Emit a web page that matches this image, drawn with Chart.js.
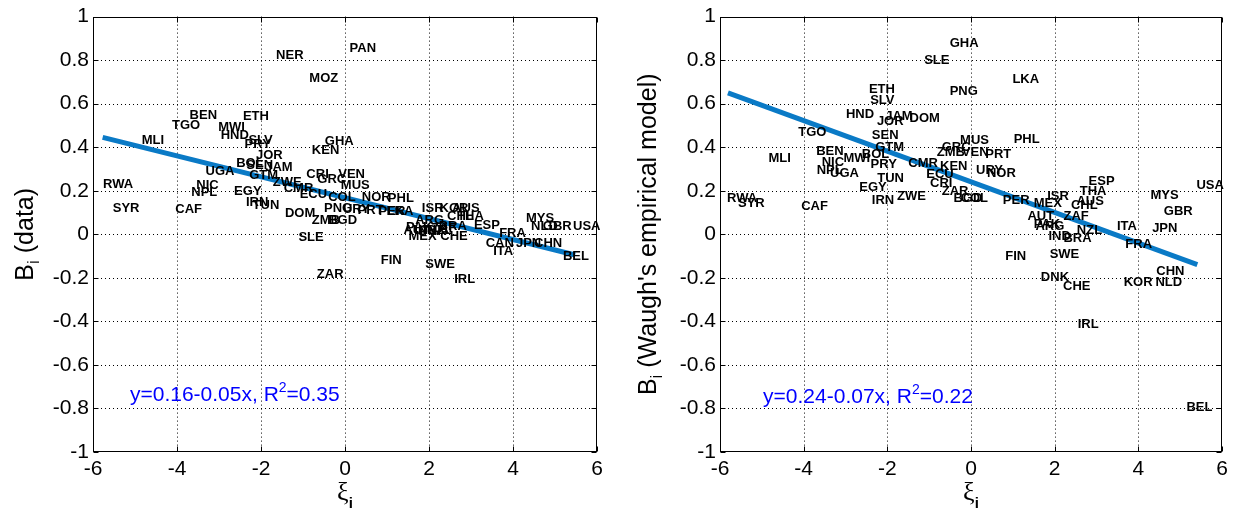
<!DOCTYPE html>
<html><head><meta charset="utf-8">
<script src="https://cdn.jsdelivr.net/npm/chart.js@4.4.0/dist/chart.umd.min.js"></script>
<style>
html,body{margin:0;padding:0;background:#fff;}
#wrap{position:relative;width:1238px;height:514px;overflow:hidden;background:#fff;}
.box{position:absolute;top:0;width:619px;height:514px;}
</style></head><body>
<div id="wrap">
<div class="box" style="left:0"><canvas id="c1" width="619" height="514"></canvas></div>
<div class="box" style="left:619px"><canvas id="c2" width="619" height="514"></canvas></div>
</div>
<script>
// ---- tick values ----
const xTickValues = [-6, -4, -2, 0, 2, 4, 6];
const yTickValues = [-1, -0.8, -0.6, -0.4, -0.2, 0, 0.2, 0.4, 0.6, 0.8, 1];

// ---- left panel: B_i (data) ----
const leftLabels = ['NER','PAN','MOZ','BEN','TGO','ETH','MWI','HND','PRY','SLV','MLI','KEN','GHA','JOR','BOL','SEN','JAM','GTM','UGA','RWA','NIC','NPL','EGY','SYR','CAF','IRN','TUN','ZWE','CMR','DOM','ZMB','BGD','SLE','ZAR','CRI','GRC','VEN','MUS','ECU','COL','PNG','URY','PRT','NOR','PHL','PER','LKA','ISR','KOR','AUS','CHL','THA','ARG','ESP','BRA','AUT','PAK','IND','DNK','NZL','ZAF','MEX','CHE','FIN','SWE','IRL','MYS','NLD','GBR','USA','FRA','CAN','ITA','JPN','CHN','BEL'];
const leftXi = [-1.64,0.11,-0.85,-3.70,-4.12,-2.43,-3.02,-2.96,-2.39,-2.30,-4.84,-0.79,-0.48,-2.12,-2.59,-2.35,-1.90,-2.28,-3.32,-5.76,-3.54,-3.66,-2.64,-5.53,-4.04,-2.36,-2.20,-1.72,-1.46,-1.43,-0.79,-0.40,-1.11,-0.67,-0.92,-0.66,-0.16,-0.10,-1.08,-0.40,-0.50,-0.05,0.30,0.40,1.02,0.80,0.99,1.83,2.25,2.55,2.43,2.67,1.67,3.07,2.23,1.39,1.45,1.65,1.75,1.95,2.05,1.51,2.27,0.85,1.91,2.60,4.31,4.43,4.71,5.43,3.67,3.35,3.53,4.07,4.50,5.19];
const leftB = [0.822,0.854,0.718,0.546,0.502,0.540,0.490,0.455,0.414,0.430,0.432,0.384,0.425,0.361,0.326,0.317,0.308,0.270,0.288,0.229,0.224,0.194,0.198,0.121,0.115,0.148,0.133,0.239,0.209,0.095,0.065,0.066,-0.015,-0.186,0.277,0.254,0.277,0.224,0.183,0.171,0.118,0.112,0.110,0.171,0.163,0.103,0.103,0.118,0.118,0.118,0.080,0.080,0.065,0.042,0.034,0.019,0.030,0.020,0.015,0.020,0.025,-0.011,-0.011,-0.118,-0.140,-0.209,0.072,0.034,0.034,0.034,0.004,-0.042,-0.080,-0.042,-0.042,-0.103];
const leftFitX = [-5.77, 5.48];
const leftFitY = [0.445, -0.095];
const leftEquation = ['y=0.16-0.05x, R', '2', '=0.35'];
const leftEquationAt = [-5.12, -0.731];
const leftTitle = ['B', 'i', ' (data)'];

// ---- right panel: B_i (Waugh's empirical model) ----
const rightLabels = ['GHA','SLE','PNG','LKA','ETH','SLV','HND','JAM','JOR','DOM','TGO','SEN','GTM','MLI','BEN','MWI','BOL','NIC','NPL','UGA','PRY','EGY','TUN','IRN','ZWE','CMR','KEN','ECU','CRI','ZAR','BGD','COL','URY','PRT','NOR','MUS','GRC','ZMB','VEN','PHL','PER','MEX','ISR','AUT','ZAF','AUS','THA','CHL','ESP','PAK','ARG','IND','NZL','BRA','FIN','SWE','DNK','CHE','IRL','FRA','ITA','JPN','MYS','GBR','USA','CHN','KOR','NLD','BEL','RWA','SYR','CAF'];
const rightXi = [-0.51,-1.12,-0.51,0.99,-2.44,-2.41,-2.99,-2.05,-2.25,-1.47,-4.13,-2.37,-2.29,-4.84,-3.70,-3.05,-2.61,-3.57,-3.69,-3.37,-2.40,-2.67,-2.24,-2.37,-1.77,-1.50,-0.74,-1.07,-0.98,-0.70,-0.42,-0.25,0.12,0.34,0.38,-0.26,-0.70,-0.82,-0.22,1.02,0.76,1.50,1.82,1.35,2.21,2.52,2.60,2.39,2.81,1.50,1.54,1.85,2.53,2.21,0.82,1.88,1.67,2.20,2.55,3.69,3.49,4.33,4.29,4.61,5.39,4.43,3.65,4.41,5.15,-5.83,-5.57,-4.06];
const rightB = [0.878,0.799,0.655,0.710,0.665,0.613,0.549,0.541,0.518,0.533,0.468,0.453,0.400,0.350,0.380,0.350,0.365,0.331,0.294,0.278,0.319,0.217,0.258,0.154,0.172,0.324,0.313,0.273,0.232,0.198,0.164,0.164,0.294,0.366,0.278,0.430,0.400,0.374,0.377,0.438,0.157,0.141,0.172,0.081,0.081,0.149,0.195,0.134,0.243,0.045,0.035,-0.010,0.020,-0.021,-0.102,-0.094,-0.197,-0.238,-0.416,-0.048,0.035,0.027,0.180,0.107,0.225,-0.170,-0.223,-0.223,-0.794,0.167,0.140,0.126];
const rightFitX = [-5.81, 5.41];
const rightFitY = [0.650, -0.139];
const rightEquation = ['y=0.24-0.07x, R', '2', '=0.22'];
const rightEquationAt = [-4.97, -0.740];
const rightTitle = ['B', 'i', " (Waugh's empirical model)"];

const xTitle = ['\u03BE', 'i'];

const SANS = '"Liberation Sans", Arial, sans-serif';

function makeChart(canvasId, labels, xs, ys, fitX, fitY, eq, eqAt, yTitle, geo) {
  const points = xs.map((x, i) => ({ x: x, y: ys[i] }));
  const fitPts = fitX.map((x, i) => ({ x: x, y: fitY[i] }));
  const plugin = {
    id: 'decor_' + canvasId,
    beforeDatasetsDraw(chart) {
      const { ctx, chartArea: a, scales: { x, y } } = chart;
      ctx.save();
      ctx.strokeStyle = '#000';
      ctx.lineWidth = 1;
      ctx.setLineDash([1, 3]);
      x.ticks.forEach(t => {
        if (t.value <= x.min || t.value >= x.max) return;
        const px = Math.round(x.getPixelForValue(t.value)) + 0.5;
        ctx.beginPath(); ctx.moveTo(px, a.top); ctx.lineTo(px, a.bottom); ctx.stroke();
      });
      y.ticks.forEach(t => {
        if (t.value <= y.min || t.value >= y.max) return;
        const py = Math.round(y.getPixelForValue(t.value)) + 0.5;
        ctx.beginPath(); ctx.moveTo(a.left, py); ctx.lineTo(a.right, py); ctx.stroke();
      });
      ctx.restore();
    },
    afterDatasetsDraw(chart) {
      const { ctx, chartArea: a, scales: { x, y } } = chart;
      ctx.save();
      // country labels
      ctx.fillStyle = '#000';
      ctx.font = 'bold 13px ' + SANS;
      ctx.textAlign = 'left';
      ctx.textBaseline = 'middle';
      const meta = chart.getDatasetMeta(0);
      meta.data.forEach((el, i) => { ctx.fillText(labels[i], el.x, el.y); });
      // box
      ctx.strokeStyle = '#000';
      ctx.lineWidth = 1;
      ctx.setLineDash([]);
      const L = Math.round(a.left) + 0.5, R = Math.round(a.right) - 0.5;
      const T = Math.round(a.top) + 0.5, B = Math.round(a.bottom) - 0.5;
      ctx.strokeRect(L, T, R - L, B - T);
      // inward tick marks
      const tl = 5;
      ctx.beginPath();
      x.ticks.forEach(t => {
        const px = Math.round(x.getPixelForValue(t.value)) + 0.5;
        ctx.moveTo(px, B); ctx.lineTo(px, B - tl);
        ctx.moveTo(px, T); ctx.lineTo(px, T + tl);
      });
      y.ticks.forEach(t => {
        const py = Math.round(y.getPixelForValue(t.value)) + 0.5;
        ctx.moveTo(L, py); ctx.lineTo(L + tl, py);
        ctx.moveTo(R, py); ctx.lineTo(R - tl, py);
      });
      ctx.stroke();
      // regression equation
      const ex = x.getPixelForValue(eqAt[0]);
      const ey = y.getPixelForValue(eqAt[1]);
      ctx.fillStyle = '#0000ff';
      ctx.textBaseline = 'alphabetic';
      ctx.font = '21px ' + SANS;
      const base = ey + 8;
      ctx.fillText(eq[0], ex, base);
      let w = ctx.measureText(eq[0]).width;
      ctx.font = '14px ' + SANS;
      ctx.fillText(eq[1], ex + w, base - 9);
      w += ctx.measureText(eq[1]).width;
      ctx.font = '21px ' + SANS;
      ctx.fillText(eq[2], ex + w, base);
      // y title (rotated)
      ctx.fillStyle = '#000';
      ctx.save();
      ctx.translate(geo.yTitleX, (a.top + a.bottom) / 2);
      ctx.rotate(-Math.PI / 2);
      ctx.font = '25px ' + SANS;
      const w0 = ctx.measureText(yTitle[0]).width;
      const w2 = ctx.measureText(yTitle[2]).width;
      ctx.font = '17px ' + SANS;
      const w1 = ctx.measureText(yTitle[1]).width;
      let sx = -(w0 + w1 + w2) / 2;
      ctx.textBaseline = 'middle';
      ctx.font = '25px ' + SANS;
      ctx.fillText(yTitle[0], sx, 0);
      ctx.font = '17px ' + SANS;
      ctx.fillText(yTitle[1], sx + w0, 8);
      ctx.font = '25px ' + SANS;
      ctx.fillText(yTitle[2], sx + w0 + w1, 0);
      ctx.restore();
      // x title
      ctx.textBaseline = 'alphabetic';
      ctx.font = '26px "Liberation Serif", "DejaVu Serif", serif';
      const xw0 = ctx.measureText(xTitle[0]).width;
      ctx.font = 'bold 15px ' + SANS;
      const xw1 = ctx.measureText(xTitle[1]).width;
      const cx = (a.left + a.right) / 2 - (xw0 + xw1) / 2;
      ctx.font = '26px "Liberation Serif", "DejaVu Serif", serif';
      ctx.fillText(xTitle[0], cx, 500);
      ctx.font = 'bold 15px ' + SANS;
      ctx.fillText(xTitle[1], cx + xw0, 508);
      ctx.restore();
    }
  };

  return new Chart(document.getElementById(canvasId), {
    type: 'scatter',
    data: {
      datasets: [
        { data: points, pointRadius: 0, pointHoverRadius: 0, showLine: false },
        { data: fitPts, showLine: true, borderColor: '#0a7ac6', borderWidth: 5, pointRadius: 0, borderCapStyle: 'butt', fill: false }
      ]
    },
    options: {
      responsive: false,
      animation: false,
      devicePixelRatio: 1,
      events: [],
      layout: { padding: { left: 0, right: geo.padRight, top: 13, bottom: 0 } },
      plugins: { legend: { display: false }, tooltip: { enabled: false } },
      scales: {
        x: {
          type: 'linear', min: -6, max: 6,
          afterBuildTicks: s => { s.ticks = xTickValues.map(v => ({ value: v })); },
          afterFit: s => { s.height = 62; },
          grid: { display: false, drawTicks: false },
          border: { display: false },
          ticks: { autoSkip: false, maxRotation: 0, padding: 5, color: '#000', font: { family: SANS, size: 21 },
                   callback: v => String(Math.round(v)) }
        },
        y: {
          type: 'linear', min: -1, max: 1,
          afterBuildTicks: s => { s.ticks = yTickValues.map(v => ({ value: v })); },
          afterFit: s => { s.width = geo.yWidth; },
          grid: { display: false, drawTicks: false },
          border: { display: false },
          ticks: { autoSkip: false, padding: 4, color: '#000', font: { family: SANS, size: 21 },
                   callback: v => String(Math.round(v * 10) / 10) }
        }
      }
    },
    plugins: [plugin]
  });
}

makeChart('c1', leftLabels, leftXi, leftB, leftFitX, leftFitY, leftEquation, leftEquationAt, leftTitle,
  { yWidth: 93, padRight: 22, yTitleX: 26 });
makeChart('c2', rightLabels, rightXi, rightB, rightFitX, rightFitY, rightEquation, rightEquationAt, rightTitle,
  { yWidth: 101, padRight: 16, yTitleX: 30 });
</script>
</body></html>
